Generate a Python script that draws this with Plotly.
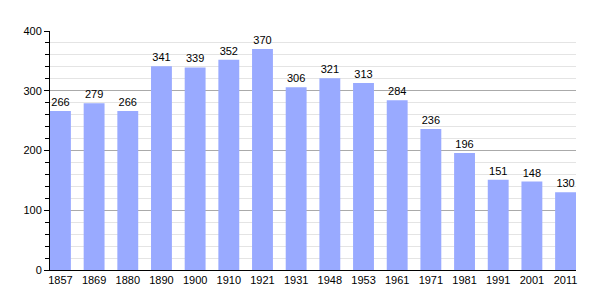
import plotly.graph_objects as go

years = ["1857", "1869", "1880", "1890", "1900", "1910", "1921", "1931", "1948", "1953", "1961", "1971", "1981", "1991", "2001", "2011"]
population = [266, 279, 266, 341, 339, 352, 370, 306, 321, 313, 284, 236, 196, 151, 148, 130]

fig = go.Figure()
fig.add_trace(go.Bar(
    x=years, y=population,
    marker=dict(color="#99aaff", line=dict(width=0)),
    width=0.62,
    text=[str(v) for v in population],
    textposition="outside",
    textfont=dict(size=11, color="black", family="Liberation Sans, Arial, sans-serif"),
    cliponaxis=False,
))
fig.update_layout(
    width=605, height=300,
    margin=dict(l=50, r=29, t=31, b=30),
    plot_bgcolor="white", paper_bgcolor="white",
    showlegend=False,
    font=dict(family="Liberation Sans, Arial, sans-serif", size=11, color="black"),
    bargap=0.38,
)
fig.update_xaxes(
    type="category", range=[-0.31, 15.31],
    showline=True, linecolor="black", linewidth=1,
    ticks="", showgrid=False, tickfont=dict(size=11),
)
fig.update_yaxes(
    range=[0, 400], dtick=100,
    showline=True, linecolor="black", linewidth=1,
    ticks="outside", ticklen=5, tickcolor="black",
    showgrid=True, gridcolor="#aaaaaa", gridwidth=1,
    minor=dict(dtick=20, showgrid=True, gridcolor="#e4e4e4", ticks="outside", ticklen=4, tickcolor="black"),
    zeroline=False, tickfont=dict(size=11),
)
fig.write_html("out.html")
